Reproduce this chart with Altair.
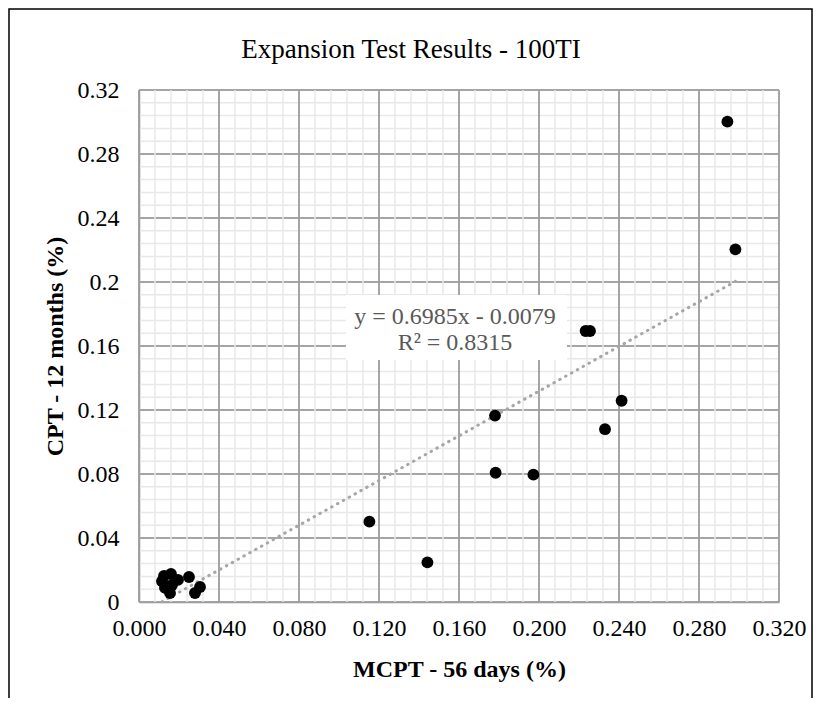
import altair as alt
import pandas as pd

# Data
mcpt_56d = [0.0115, 0.0125, 0.016, 0.013, 0.0165, 0.0195, 0.025, 0.028, 0.0305, 0.0155,
            0.1152, 0.1442, 0.178, 0.1783, 0.1972, 0.2233, 0.2255, 0.233, 0.2413,
            0.2942, 0.2982]
cpt_12m = [0.0130, 0.0163, 0.0175, 0.0088, 0.0106, 0.0138, 0.0156, 0.0056, 0.0094, 0.0056,
           0.0502, 0.0248, 0.1165, 0.0808, 0.0796, 0.1694, 0.1694, 0.108, 0.1258,
           0.3002, 0.2204]

major_ticks = [0.0, 0.04, 0.08, 0.12, 0.16, 0.2, 0.24, 0.28, 0.32]
minor_ticks = [round(i * 0.008, 3) for i in range(41)]

slope = 0.6985
intercept = -0.0079
eq_lines = ["y = 0.6985x - 0.0079", "R² = 0.8315"]

title = "Expansion Test Results - 100TI"
x_title = "MCPT - 56 days (%)"
y_title = "CPT - 12 months (%)"

FONT = "Liberation Serif"
MAJOR = "#8c8c8c"
MINOR = "#e8e8e8"

pts = pd.DataFrame({"x": mcpt_56d, "y": cpt_12m})
major_df = pd.DataFrame({"x": major_ticks, "y": major_ticks})
minor_df = pd.DataFrame({"x": minor_ticks, "y": minor_ticks})
trend_df = pd.DataFrame({"x": [min(mcpt_56d), max(mcpt_56d)]})

xs = alt.Scale(domain=[0, 0.32], nice=False)
ys = alt.Scale(domain=[0, 0.32], nice=False)

X_AXIS = alt.Axis(values=major_ticks, format=".3f", grid=False, ticks=False,
                  domainColor=MAJOR, domainWidth=1.5, labelPadding=14,
                  titlePadding=17, labelFlush=False)
Y_AXIS = alt.Axis(values=major_ticks, format=".2~f", grid=False, ticks=False,
                  domainColor=MAJOR, domainWidth=1.5, labelPadding=20,
                  titlePadding=10, labelFlush=False)


def X(field="x"):
    return alt.X(f"{field}:Q", scale=xs, title=x_title, axis=X_AXIS)


def Y(field="y"):
    return alt.Y(f"{field}:Q", scale=ys, title=y_title, axis=Y_AXIS)


border = alt.Chart(pd.DataFrame({"a": [0]})).mark_rect(
    fill="transparent", stroke="black", strokeWidth=1.5
).encode(x=alt.value(-130), x2=alt.value(673), y=alt.value(-81), y2=alt.value(720))

minor_h = alt.Chart(minor_df).mark_rule(color=MINOR, strokeWidth=1.5).encode(y=Y())
major_h = alt.Chart(major_df).mark_rule(color=MAJOR, strokeWidth=1.5).encode(y=Y())
minor_v = alt.Chart(minor_df).mark_rule(color=MINOR, strokeWidth=1.5).encode(x=X())
major_v = alt.Chart(major_df).mark_rule(color=MAJOR, strokeWidth=1.5).encode(x=X())

trend = alt.Chart(trend_df).transform_calculate(
    y=f"{slope} * datum.x + ({intercept})"
).mark_line(color="#a6a6a6", strokeWidth=3, strokeDash=[0.5, 6.2], strokeCap="round").encode(
    x=X(), y=Y()
)

box = alt.Chart(pd.DataFrame({"a": [0]})).mark_rect(fill="white").encode(
    x=alt.value(207), x2=alt.value(428), y=alt.value(205), y2=alt.value(270))

eq1 = alt.Chart(pd.DataFrame({"t": [eq_lines[0]]})).mark_text(
    font=FONT, fontSize=24, color="#595959", align="center", baseline="middle"
).encode(text="t:N", x=alt.value(316), y=alt.value(227))
eq2 = alt.Chart(pd.DataFrame({"t": [eq_lines[1]]})).mark_text(
    font=FONT, fontSize=24, color="#595959", align="center", baseline="middle"
).encode(text="t:N", x=alt.value(316), y=alt.value(253))

title_mark = alt.Chart(pd.DataFrame({"t": [title]})).mark_text(
    font=FONT, fontSize=27, color="black", align="center", baseline="middle"
).encode(text="t:N", x=alt.value(272), y=alt.value(-40))

points = alt.Chart(pts).mark_circle(size=140, color="black", opacity=1).encode(
    x=X(), y=Y()
)

chart = alt.layer(
    border, minor_h, major_h, minor_v, major_v, trend, box, eq1, eq2, title_mark, points
).properties(
    width=640, height=512,
    autosize=alt.AutoSizeParams(type="none"),
    padding={"left": 131, "top": 82, "right": 34, "bottom": 96},
).configure_view(stroke=None).configure_axis(
    labelFont=FONT, labelFontSize=24, labelColor="black",
    titleFont=FONT, titleFontSize=24, titleFontWeight="bold", titleColor="black",
)

chart.save("out.html", embed_options={"renderer": "svg", "actions": False})
